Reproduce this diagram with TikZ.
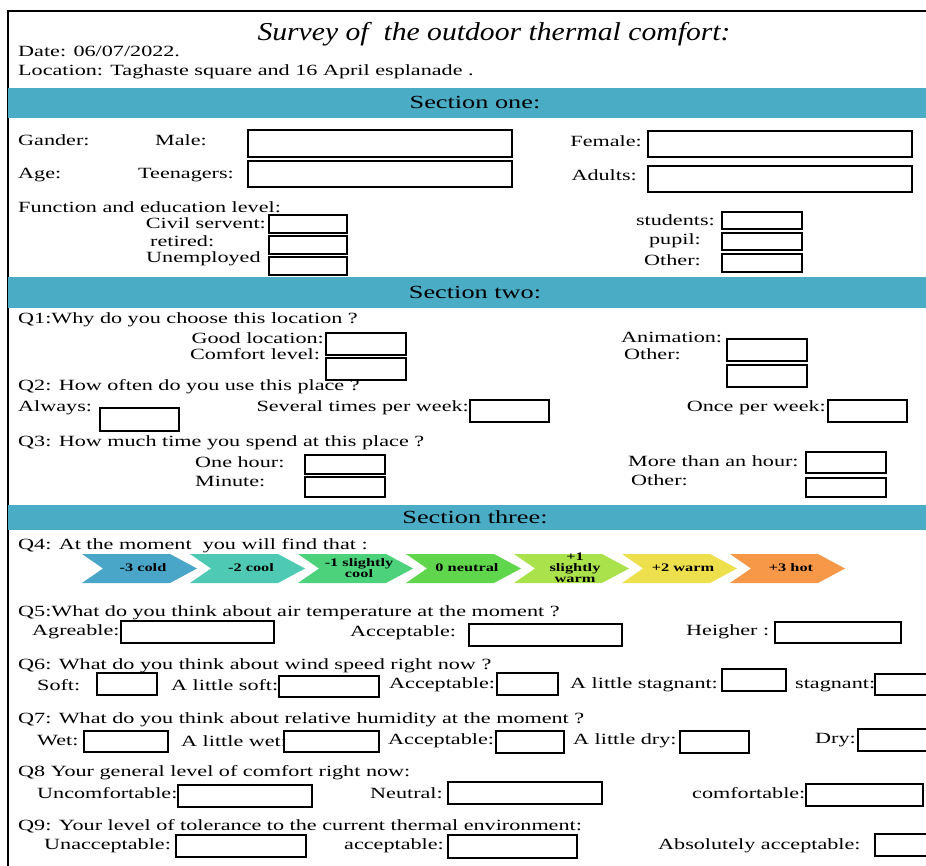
\documentclass[tikz,border=0pt]{standalone}
\usepackage{fontspec}
\setmainfont{Liberation Serif}[FakeStretch=1.42]
\newfontfamily\titlefont{Liberation Serif}[FakeStretch=1.15]
\usetikzlibrary{positioning}

\definecolor{secblue}{RGB}{75,172,198}
\definecolor{cold}{RGB}{74,166,200}
\definecolor{cool}{RGB}{78,202,180}
\definecolor{slcool}{RGB}{76,210,122}
\definecolor{neutral}{RGB}{96,214,76}
\definecolor{slwarm}{RGB}{170,226,76}
\definecolor{warm}{RGB}{238,224,76}
\definecolor{hot}{RGB}{246,152,72}

\tikzset{
    lbl/.style={inner sep=0pt, anchor=west, font=\fontsize{15.6}{17}\selectfont},
    rlbl/.style={lbl, anchor=east},
    ansbox/.style={draw=black, line width=1.4pt},
    sectxt/.style={inner sep=0pt, font=\fontsize{18.5}{20}\selectfont},
    chevtxt/.style={inner sep=0pt, align=center, font=\bfseries\fontsize{11.5}{10.8}\selectfont},
}

\begin{document}
\begin{tikzpicture}[x=1pt, y=-1pt]
    \useasboundingbox (0,0) rectangle (926,866);
    \fill[white] (0,0) rectangle (926,866);

    % frame
    \draw[line width=2.5pt] (8,866) -- (8,11) -- (930,11);

    % header
    \node[inner sep=0pt, font=\titlefont\itshape\fontsize{25.8}{27}\selectfont] (title) at (494,34)
        {Survey of\ \ the outdoor thermal comfort:};
    \node[lbl] (date) at (18,51) {Date: 06/07/2022.};
    \node[lbl] (loc) at (18,72) {Location: Taghaste square and 16 April esplanade .};

    % section one
    \fill[secblue] (8,88) rectangle (926,118);
    \node[sectxt] (sec1) at (475,103) {Section one:};

    \node[lbl] (gander) at (18,140) {Gander:};
    \node[lbl] (male) at (155,140) {Male:};
    \draw[ansbox] (248,130) rectangle (512,157);
    \node[rlbl] (female) at (642,141) {Female:};
    \draw[ansbox] (648,131) rectangle (912,157);

    \node[lbl] (age) at (18,175) {Age:};
    \node[lbl] (teen) at (138,175) {Teenagers:};
    \draw[ansbox] (248,161) rectangle (512,187);
    \node[rlbl] (adults) at (637,175) {Adults:};
    \draw[ansbox] (648,166) rectangle (912,192);

    \node[lbl] (func) at (18,207) {Function and education level:};
    \node[rlbl] (civil) at (266,223) {Civil servent:};
    \node[lbl] (retired) at (150,241) {retired:};
    \node[lbl] (unemp) at (146,259) {Unemployed};
    \draw[ansbox] (269,215) rectangle (347,233);
    \draw[ansbox] (269,236) rectangle (347,254);
    \draw[ansbox] (269,257) rectangle (347,275);
    \node[rlbl] (students) at (715,220) {students:};
    \node[rlbl] (pupil) at (701,241) {pupil:};
    \node[rlbl] (other1) at (701,260) {Other:};
    \draw[ansbox] (722,212) rectangle (802,229);
    \draw[ansbox] (722,233) rectangle (802,250);
    \draw[ansbox] (722,254) rectangle (802,272);

    % section two
    \fill[secblue] (8,277) rectangle (926,308);
    \node[sectxt] (sec2) at (475,293) {Section two:};

    \node[lbl] (q1) at (18,320) {Q1:Why do you choose this location ?};
    \node[rlbl] (goodloc) at (324,338) {Good location:};
    \node[lbl] (comfort) at (190,354) {Comfort level:};
    \draw[ansbox] (326,333) rectangle (406,355);
    \draw[ansbox] (326,358) rectangle (406,380);
    \node[lbl] (anim) at (621,337) {Animation:};
    \node[lbl] (other2) at (624,354) {Other:};
    \draw[ansbox] (727,339) rectangle (807,361);
    \draw[ansbox] (727,365) rectangle (807,387);

    \node[lbl] (q2) at (18,387) {Q2: How often do you use this place ?};
    \node[lbl] (always) at (18,408) {Always:};
    \draw[ansbox] (100,408) rectangle (179,431);
    \node[rlbl] (several) at (469,408) {Several times per week:};
    \draw[ansbox] (470,400) rectangle (549,422);
    \node[rlbl] (once) at (826,408) {Once per week:};
    \draw[ansbox] (828,400) rectangle (907,422);

    \node[lbl] (q3) at (18,443) {Q3: How much time you spend at this place ?};
    \node[lbl] (onehour) at (195,462) {One hour:};
    \node[lbl] (minute) at (195,481) {Minute:};
    \draw[ansbox] (305,455) rectangle (385,474);
    \draw[ansbox] (305,477) rectangle (385,497);
    \node[lbl] (more) at (628,461) {More than an hour:};
    \node[lbl] (other3) at (631,480) {Other:};
    \draw[ansbox] (806,452) rectangle (886,473);
    \draw[ansbox] (806,478) rectangle (886,497);

    % section three
    \fill[secblue] (8,505) rectangle (926,530);
    \node[sectxt] (sec3) at (475,517) {Section three:};

    \node[lbl] (q4) at (18,546) {Q4: At the moment\ \ you will find that :};
    \foreach \n/\col/\txt [count=\i from 0] in {c1/cold/{-3 cold}, c2/cool/{-2 cool},
            c3/slcool/{-1 slightly\\cool}, c4/neutral/{0 neutral},
            c5/slwarm/{+1\\slightly\\warm}, c6/warm/{+2 warm}, c7/hot/{+3 hot}} {
        \fill[\col] (82+108*\i,554) -- ++(88,0) -- ++(27,14.5) -- ++(-27,14.5)
            -- ++(-88,0) -- ++(21,-14.5) -- cycle;
        \node[chevtxt] (\n) at (143+108*\i,568) {\txt};
    }

    \node[lbl] (q5) at (18,613) {Q5:What do you think about air temperature at the moment ?};
    \node[lbl] (agre) at (32,632) {Agreable:};
    \draw[ansbox] (121,621) rectangle (274,643);
    \node[lbl] (acc5) at (350,633) {Acceptable:};
    \draw[ansbox] (469,624) rectangle (622,646);
    \node[lbl] (heigh) at (686,632) {Heigher :};
    \draw[ansbox] (775,622) rectangle (901,643);

    \node[lbl] (q6) at (18,666) {Q6: What do you think about wind speed right now ?};
    \node[lbl] (soft) at (37,685) {Soft:};
    \draw[ansbox] (97,673) rectangle (157,695);
    \node[lbl] (lsoft) at (171,685) {A little soft:};
    \draw[ansbox] (279,676) rectangle (379,697);
    \node[lbl] (acc6) at (389,685) {Acceptable:};
    \draw[ansbox] (497,673) rectangle (558,695);
    \node[lbl] (lstag) at (570,685) {A little stagnant:};
    \draw[ansbox] (722,669) rectangle (786,691);
    \node[lbl] (stag) at (795,686) {stagnant:};
    \draw[ansbox] (875,674) rectangle (935,695);

    \node[lbl] (q7) at (18,720) {Q7: What do you think about relative humidity at the moment ?};
    \node[lbl] (wet) at (37,741) {Wet:};
    \draw[ansbox] (84,731) rectangle (168,752);
    \node[lbl] (lwet) at (181,741) {A little wet:};
    \draw[ansbox] (284,731) rectangle (379,752);
    \node[lbl] (acc7) at (388,741) {Acceptable:};
    \draw[ansbox] (496,731) rectangle (564,753);
    \node[lbl] (ldry) at (573,741) {A little dry:};
    \draw[ansbox] (680,731) rectangle (749,753);
    \node[lbl] (dry) at (815,740) {Dry:};
    \draw[ansbox] (858,729) rectangle (935,751);

    \node[lbl] (q8) at (18,773) {Q8 Your general level of comfort right now:};
    \node[lbl] (uncomf) at (37,793) {Uncomfortable:};
    \draw[ansbox] (178,785) rectangle (312,807);
    \node[lbl] (neut) at (370,793) {Neutral:};
    \draw[ansbox] (448,782) rectangle (602,804);
    \node[lbl] (comf) at (692,793) {comfortable:};
    \draw[ansbox] (806,784) rectangle (923,806);

    \node[lbl] (q9) at (18,826) {Q9: Your level of tolerance to the current thermal environment:};
    \node[lbl] (unacc) at (44,846) {Unacceptable:};
    \draw[ansbox] (176,835) rectangle (306,857);
    \node[lbl] (acc9) at (344,846) {acceptable:};
    \draw[ansbox] (448,835) rectangle (577,858);
    \node[lbl] (absacc) at (658,846) {Absolutely acceptable:};
    \draw[ansbox] (875,834) rectangle (935,856);
\end{tikzpicture}
\end{document}
